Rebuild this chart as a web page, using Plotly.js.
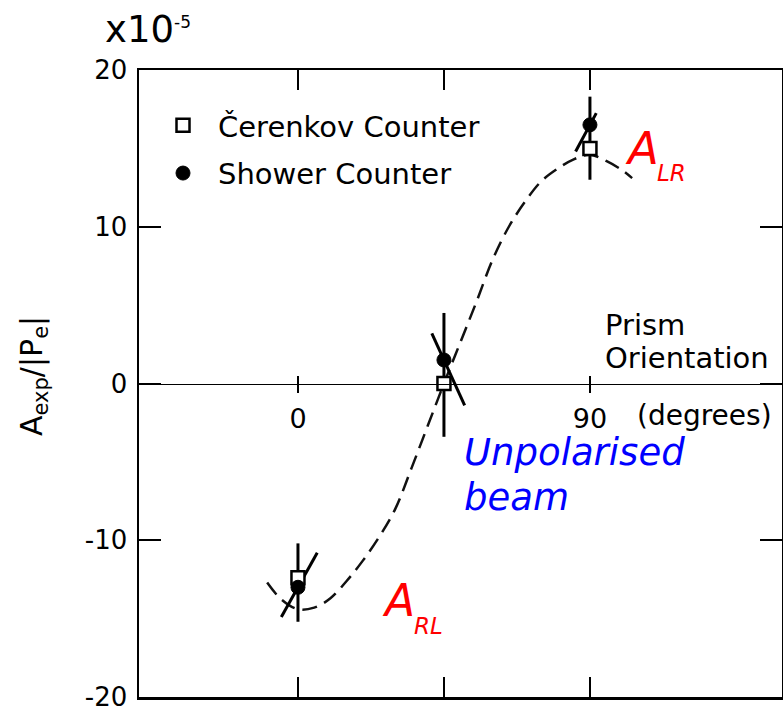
<!DOCTYPE html>
<html>
<head>
<meta charset="utf-8">
<script src="https://cdn.plot.ly/plotly-3.0.1.min.js"></script>
<style>html,body{margin:0;padding:0;background:#fff;}#chart{width:783px;height:707px;}</style>
</head>
<body>
<div id="chart"></div>
<script>
// ---- data ----
const angles = [0, 45, 90];                       // prism orientation (degrees)
const cerenkov = [-12.4, 0.0, 15.0];              // A_exp/|P_e| x1e-5, Čerenkov counter
const cerenkovErrPlus = [2.2, 4.5, 3.3];
const cerenkovErrMinus = [2.8, 3.4, 2.0];
const shower = [-13.0, 1.5, 16.5];                // shower counter
const showerErrPlus = [2.2, 1.7, 0.75];
const showerErrMinus = [1.9, 2.9, 1.7];
const fitAngles = [-9.5, -5, 0, 5, 10, 15, 20, 25, 30, 35, 40, 45, 50, 55, 60, 65, 70, 75, 80, 85, 90, 95, 100, 103];
const fitValues = [-12.7, -13.8, -14.4, -14.3, -13.7, -12.6, -11.3, -9.8, -8.0, -5.4, -2.7, 0.0, 2.6, 5.2, 7.9, 10.0, 11.6, 12.9, 13.7, 14.3, 14.6, 14.2, 13.6, 13.1];
const xTickVals = [0, 90];
const xTickText = ['0', '90'];
const yTickVals = [-20, -10, 0, 10, 20];
const yTickText = ['-20', '-10', '0', '10', '20'];
const seriesNames = ['Čerenkov Counter', 'Shower Counter'];

// ---- style ----
const FONT = 'DejaVu Sans';
const showerSlant = [2.7, -2.2, 2.6]; // drawing slant of shower-counter error lines (deg per unit)

// slanted error lines built from the data
const sx = [], sy = [];
for (let i = 0; i < angles.length; i++) {
  sx.push(angles[i] - showerSlant[i] * showerErrMinus[i], angles[i] + showerSlant[i] * showerErrPlus[i], null);
  sy.push(shower[i] - showerErrMinus[i], shower[i] + showerErrPlus[i], null);
}

const traces = [
  {x: fitAngles, y: fitValues, mode: 'lines', line: {color: '#111', width: 2.5, dash: '15px,8px', shape: 'spline'}, showlegend: false, hoverinfo: 'skip'},
  {x: sx, y: sy, mode: 'lines', line: {color: '#000', width: 3}, showlegend: false, hoverinfo: 'skip'},
  {x: angles, y: cerenkov, mode: 'markers', name: seriesNames[0], legendgroup: 'a',
   marker: {symbol: 'square', size: 13, color: '#fff', line: {color: '#000', width: 2.5}},
   error_y: {type: 'data', symmetric: false, array: cerenkovErrPlus, arrayminus: cerenkovErrMinus, width: 0, thickness: 3, color: '#000'}},
  {x: angles, y: shower, mode: 'markers', name: seriesNames[1], legendgroup: 'b',
   marker: {symbol: 'circle', size: 14, color: '#000', line: {color: '#000', width: 1}}},
  {x: angles, y: cerenkov, xaxis: 'x2', mode: 'none', showlegend: false, hoverinfo: 'skip'},
  {x: angles, y: cerenkov, xaxis: 'x3', mode: 'none', showlegend: false, hoverinfo: 'skip'}
];

const L = 139, T = 70, W = 643, H = 627;
const px = v => (v - L) / W;
const py = v => (T + H - v) / H;

function ann(text, x, y, size, opts) {
  return Object.assign({text: text, xref: 'paper', yref: 'paper', x: px(x), y: py(y), xanchor: 'left', yanchor: 'middle',
    showarrow: false, font: {family: FONT, size: size, color: '#000'}}, opts || {});
}

const annotations = [
  ann('x10', 103, 30, 37),
  ann('-5', 172, 22, 17),
  ann('A', 623, 148, 45, {font: {family: FONT, size: 45, color: '#ff0000', style: 'italic'}}),
  ann('LR', 655, 173, 23, {font: {family: FONT, size: 23, color: '#ff0000', style: 'italic'}}),
  ann('A', 380, 600, 44, {font: {family: FONT, size: 44, color: '#ff0000', style: 'italic'}}),
  ann('RL', 412, 626, 23, {font: {family: FONT, size: 23, color: '#ff0000', style: 'italic'}}),
  ann('Unpolarised', 462, 452, 37, {font: {family: FONT, size: 37, color: '#0000ff', style: 'italic'}}),
  ann('beam', 462, 497, 37, {font: {family: FONT, size: 37, color: '#0000ff', style: 'italic'}}),
  ann('Prism', 603, 325, 29),
  ann('Orientation', 603, 358, 29),
  ann('(degrees)', 635, 415, 28),
  ann('A<sub>exp</sub>/|P<sub>e</sub>|', 33, 376, 30, {xanchor: 'center', textangle: -90})
];

const layout = {
  width: 783, height: 707,
  margin: {l: L, r: 783 - L - W, t: T, b: 707 - T - H, pad: 0},
  paper_bgcolor: '#fff', plot_bgcolor: '#fff',
  font: {family: FONT, size: 26, color: '#000'},
  showlegend: true,
  legend: {x: px(148), y: py(100), xanchor: 'left', yanchor: 'top', bgcolor: 'rgba(0,0,0,0)',
    font: {family: FONT, size: 29, color: '#000'}, traceorder: 'grouped', tracegroupgap: 7, itemwidth: 60},
  xaxis: {range: [-49.0, 149.2], showline: true, linecolor: '#000', linewidth: 2.5, mirror: 'ticks',
    ticks: 'inside', ticklen: 20, tickwidth: 2, tickcolor: '#000', tickvals: [0, 45, 90], showticklabels: false,
    showgrid: false, zeroline: false, fixedrange: true},
  xaxis2: {overlaying: 'x', anchor: 'free', position: 0.5, range: [-49.0, 149.2], showline: true, linecolor: '#000', linewidth: 1.5,
    ticks: 'outside', ticklen: 8, tickwidth: 1.5, tickcolor: '#000', tickvals: xTickVals, ticktext: xTickText,
    tickfont: {family: FONT, size: 27, color: '#000'}, ticklabelstandoff: 3, ticklabeloverflow: 'allow',
    showgrid: false, zeroline: false, side: 'bottom'},
  xaxis3: {overlaying: 'x', anchor: 'free', position: 0.5, range: [-49.0, 149.2], showline: false,
    ticks: 'inside', ticklen: 8, tickwidth: 1.5, tickcolor: '#000', tickvals: xTickVals, showticklabels: false,
    showgrid: false, zeroline: false, side: 'bottom'},
  yaxis: {range: [-20, 20], showline: true, linecolor: '#000', linewidth: 2.5, mirror: 'ticks',
    ticks: 'inside', ticklen: 22, tickwidth: 2, tickcolor: '#000', tickvals: yTickVals, ticktext: yTickText,
    tickfont: {family: FONT, size: 26, color: '#000'}, ticklabelstandoff: 4, ticklabeloverflow: 'allow',
    showgrid: false, zeroline: false, fixedrange: true},
  annotations: annotations
};

Plotly.newPlot('chart', traces, layout, {staticPlot: true, displayModeBar: false});
</script>
</body>
</html>
